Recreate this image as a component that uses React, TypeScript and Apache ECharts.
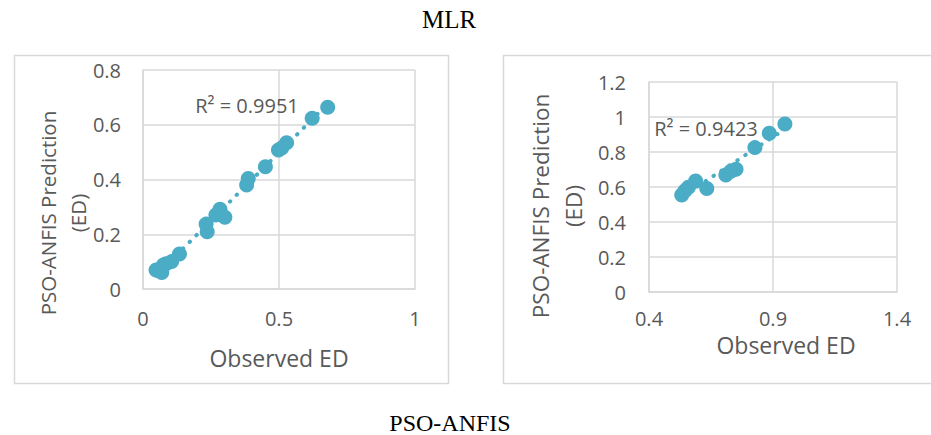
import React, { useEffect, useRef } from "react";
import * as echarts from "echarts";

// ---- data ----
const mlrObserved = [0.048, 0.069, 0.075, 0.085, 0.105, 0.134, 0.232, 0.236, 0.268, 0.283, 0.301, 0.381, 0.387, 0.45, 0.498, 0.51, 0.528, 0.622, 0.679];
const mlrPredicted = [0.069, 0.06, 0.088, 0.092, 0.1, 0.128, 0.237, 0.209, 0.27, 0.291, 0.262, 0.38, 0.404, 0.447, 0.508, 0.515, 0.534, 0.624, 0.664];
const anfisObserved = [0.532, 0.545, 0.559, 0.588, 0.633, 0.71, 0.73, 0.751, 0.827, 0.885, 0.948];
const anfisPredicted = [0.554, 0.579, 0.598, 0.634, 0.592, 0.669, 0.69, 0.701, 0.825, 0.907, 0.96];

const mlrXAxis = { min: 0, max: 1, interval: 0.5 };
const mlrYAxis = { min: 0, max: 0.8, interval: 0.2 };
const anfisXAxis = { min: 0.4, max: 1.4, interval: 0.5 };
const anfisYAxis = { min: 0, max: 1.2, interval: 0.2 };

const topTitle = "MLR";
const bottomTitle = "PSO-ANFIS";
const mlrR2Label = "R² = 0.9951";
const anfisR2Label = "R² = 0.9423";
const xAxisTitle = "Observed ED";
const yAxisTitle = "PSO-ANFIS Prediction\n(ED)";

const COLOR = "#4BACC6";
const GRID = "#d9d9d9";
const TEXT = "#595959";
const FONT = "'Open Sans', sans-serif";

function trend(xs: number[], ys: number[]) {
  const n = xs.length;
  const mx = xs.reduce((a, b) => a + b, 0) / n;
  const my = ys.reduce((a, b) => a + b, 0) / n;
  let sxy = 0, sxx = 0;
  for (let i = 0; i < n; i++) {
    sxy += (xs[i] - mx) * (ys[i] - my);
    sxx += (xs[i] - mx) * (xs[i] - mx);
  }
  const b = sxy / sxx;
  const a = my - b * mx;
  const x0 = Math.min(...xs);
  const x1 = Math.max(...xs);
  return [[x0, a + b * x0], [x1, a + b * x1]];
}

const fmt = (v: number) => String(+v.toFixed(2));

function axisX(idx: number, cfg: any, margin: number) {
  return {
    type: "value", gridIndex: idx, ...cfg,
    axisLine: { show: true, lineStyle: { color: GRID, width: 1.5 } },
    axisTick: { show: false },
    splitLine: { show: true, lineStyle: { color: GRID, width: 1.5 } },
    axisLabel: { color: TEXT, fontSize: 20, fontFamily: FONT, margin, formatter: fmt, showMaxLabel: true, showMinLabel: true },
  };
}
function axisY(idx: number, cfg: any, margin: number) {
  return {
    type: "value", gridIndex: idx, ...cfg,
    axisLine: { show: true, lineStyle: { color: GRID, width: 1.5 } },
    axisTick: { show: false },
    splitLine: { show: true, lineStyle: { color: GRID, width: 1.5 } },
    axisLabel: { color: TEXT, fontSize: 20, fontFamily: FONT, margin, formatter: fmt, showMaxLabel: true, showMinLabel: true },
  };
}

export default function App() {
  const ref = useRef<HTMLDivElement>(null);
  useEffect(() => {
    if (!ref.current) return;
    const chart = echarts.init(ref.current, undefined, { renderer: "svg" });
    const trendStyle = { color: COLOR, width: 4, type: [0.5, 9], cap: "round" };
    chart.setOption({
      animation: false,
      backgroundColor: "#ffffff",
      grid: [
        { left: 143, top: 70, width: 272, height: 219 },
        { left: 649, top: 82, width: 248, height: 210 },
      ],
      xAxis: [axisX(0, mlrXAxis, 19), axisX(1, anfisXAxis, 16)],
      yAxis: [axisY(0, mlrYAxis, 22), axisY(1, anfisYAxis, 23)],
      series: [
        {
          type: "line", xAxisIndex: 0, yAxisIndex: 0, data: trend(mlrObserved, mlrPredicted),
          showSymbol: false, symbol: "none", lineStyle: trendStyle, z: 1,
        },
        {
          type: "scatter", xAxisIndex: 0, yAxisIndex: 0, symbolSize: 15,
          itemStyle: { color: COLOR, opacity: 1 },
          data: mlrObserved.map((x, i) => [x, mlrPredicted[i]]), z: 2,
        },
        {
          type: "line", xAxisIndex: 1, yAxisIndex: 1, data: trend(anfisObserved, anfisPredicted),
          showSymbol: false, symbol: "none", lineStyle: trendStyle, z: 1,
        },
        {
          type: "scatter", xAxisIndex: 1, yAxisIndex: 1, symbolSize: 15,
          itemStyle: { color: COLOR, opacity: 1 },
          data: anfisObserved.map((x, i) => [x, anfisPredicted[i]]), z: 2,
        },
      ],
      graphic: [
        { type: "rect", shape: { x: 14.5, y: 55.5, width: 434, height: 328 }, style: { fill: "none", stroke: GRID, lineWidth: 1.5 }, z: 0 },
        { type: "rect", shape: { x: 503.5, y: 55.5, width: 440, height: 328 }, style: { fill: "none", stroke: GRID, lineWidth: 1.5 }, z: 0 },
        { type: "text", x: 449, y: 19, style: { text: topTitle, font: "25px 'Liberation Serif', 'Times New Roman', serif", fill: "#000", textAlign: "center", textVerticalAlign: "middle" } },
        { type: "text", x: 450, y: 423, style: { text: bottomTitle, font: "24px 'Liberation Serif', 'Times New Roman', serif", fill: "#000", textAlign: "center", textVerticalAlign: "middle" } },
        { type: "text", x: 279, y: 358, style: { text: xAxisTitle, font: `23px ${FONT}`, fill: TEXT, textAlign: "center", textVerticalAlign: "middle" } },
        { type: "text", x: 786, y: 345, style: { text: xAxisTitle, font: `23px ${FONT}`, fill: TEXT, textAlign: "center", textVerticalAlign: "middle" } },
        { type: "text", x: 63, y: 213, rotation: Math.PI / 2, style: { text: yAxisTitle, font: `20.5px ${FONT}`, lineHeight: 30, fill: TEXT, textAlign: "center", textVerticalAlign: "middle" } },
        { type: "text", x: 557, y: 206, rotation: Math.PI / 2, style: { text: yAxisTitle, font: `22.5px ${FONT}`, lineHeight: 33, fill: TEXT, textAlign: "center", textVerticalAlign: "middle" } },
        { type: "text", x: 247, y: 105, style: { text: mlrR2Label, font: `20px ${FONT}`, fill: TEXT, textAlign: "center", textVerticalAlign: "middle" }, z: 10 },
        { type: "text", x: 706, y: 128, style: { text: anfisR2Label, font: `20px ${FONT}`, fill: TEXT, textAlign: "center", textVerticalAlign: "middle" }, z: 10 },
      ],
    });
    return () => chart.dispose();
  }, []);
  return <div ref={ref} style={{ position: "fixed", left: 0, top: 0, width: 931, height: 435 }} />;
}
